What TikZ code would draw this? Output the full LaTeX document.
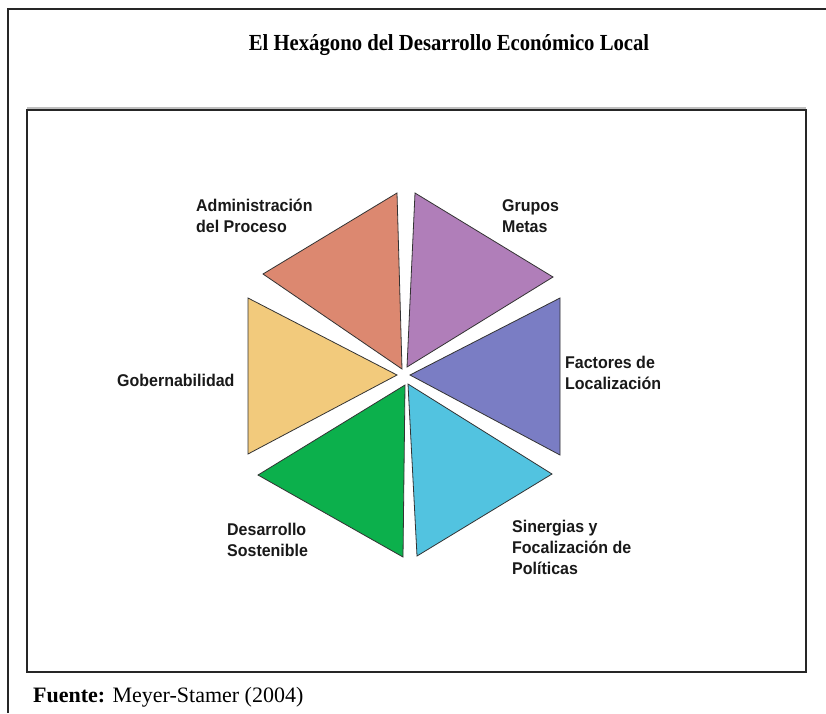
\documentclass[tikz,border=0pt]{standalone}
\usepackage{fontspec}
\setmainfont{Liberation Serif}
\newfontfamily\labfont[FakeStretch=0.94]{Liberation Sans}
\newfontfamily\titlefont[FakeStretch=0.9]{Liberation Serif}
\definecolor{cOrange}{HTML}{DC8870}
\definecolor{cPurple}{HTML}{B07EB9}
\definecolor{cBlue}{HTML}{7A7DC4}
\definecolor{cCyan}{HTML}{52C3E0}
\definecolor{cGreen}{HTML}{0CB04C}
\definecolor{cYellow}{HTML}{F2CA7C}
\begin{document}
\begin{tikzpicture}[x=1pt,y=-1pt,
  tri/.style={draw=black!80, line width=0.8pt, line join=miter},
  lab/.style={font=\labfont\bfseries\fontsize{17}{21}\selectfont, align=left, anchor=west, inner sep=0pt, text=black!90},
  frameline/.style={draw=black!85, line width=2pt}]
\useasboundingbox (0,0) rectangle (826,713);
\fill[white] (0,0) rectangle (826,713);
% outer frame (left and top only visible)
\draw[frameline] (8,713) -- (8,9) -- (826,9);
% inner box with faint shadow
\draw[black!25, line width=2pt] (27,108) -- (806,108);
\draw[black!85, line width=1.5pt] (27,110) rectangle (806,672);
% title
\node[font=\titlefont\bfseries\fontsize{23}{27}\selectfont, inner sep=0pt] (title) at (449,45) {El Hexágono del Desarrollo Económico Local};
% triangles
\draw[tri, fill=cOrange] (397,193) -- (263,274) -- (402,369) -- cycle;
\draw[tri, fill=cPurple] (415,193) -- (553,277) -- (407,367) -- cycle;
\draw[tri, fill=cBlue]   (560,298) -- (560,455) -- (410,375) -- cycle;
\draw[tri, fill=cCyan]   (408,384) -- (552,474) -- (417,556) -- cycle;
\draw[tri, fill=cGreen]  (405,385) -- (258,475) -- (403,557) -- cycle;
\draw[tri, fill=cYellow] (248,298) -- (248,454) -- (397,375) -- cycle;
% labels
\node[lab] (admin) at (196,216) {Administración\\del Proceso};
\node[lab] (grupos) at (502,216) {Grupos\\Metas};
\node[lab] (gober) at (117,380) {Gobernabilidad};
\node[lab] (factores) at (565,373) {Factores de\\Localización};
\node[lab] (desarrollo) at (227,540) {Desarrollo\\Sostenible};
\node[lab] (sinergias) at (512,547) {Sinergias y\\Focalización de\\Políticas};
% source
\node[anchor=west, inner sep=0pt, font=\fontsize{22}{26}\selectfont] (fuente) at (33,697) {\textbf{Fuente:} Meyer-Stamer (2004)};
\end{tikzpicture}
\end{document}
